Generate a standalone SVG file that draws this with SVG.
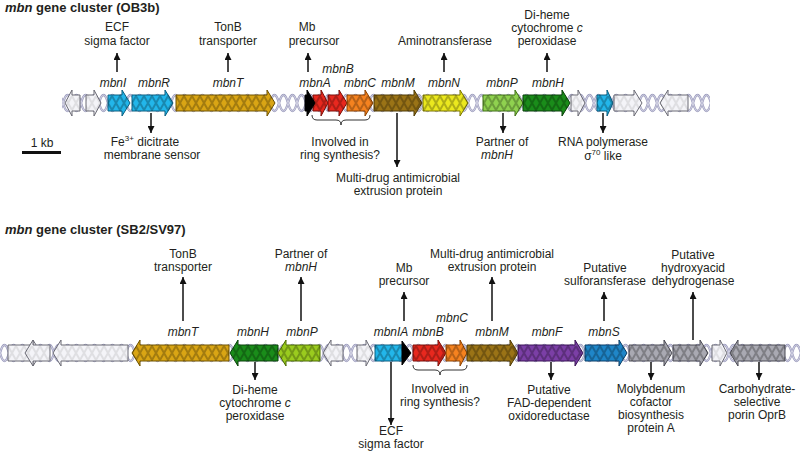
<svg xmlns="http://www.w3.org/2000/svg" xmlns:xlink="http://www.w3.org/1999/xlink" width="800" height="452" viewBox="0 0 800 452">
<defs>
<style>
text{font-family:"Liberation Sans",Arial,sans-serif;font-size:12px;fill:#231f20;text-anchor:middle}
.ttl{font-size:13px;font-weight:bold;text-anchor:start}
.i{font-style:italic}
.ar{stroke:#111;stroke-width:1.5;fill:none;marker-end:url(#ah)}
.br{stroke:#333;stroke-width:1;fill:none}
</style>
<marker id="ah" markerUnits="userSpaceOnUse" markerWidth="7" markerHeight="7" refX="7" refY="3.5" orient="auto"><path d="M0,0 L7,3.5 L0,7 z" fill="#111"/></marker>
<pattern id="dT" patternUnits="userSpaceOnUse" x="0" y="93" width="18" height="20"><path d="M0 10 Q4.5 -6 9 10 T18 10 M0 10 Q4.5 26 9 10 T18 10" fill="none" stroke="#9c9cbd" stroke-width="2.4"/><path d="M0 10 Q4.5 -6 9 10 T18 10 M0 10 Q4.5 26 9 10 T18 10" fill="none" stroke="#dedeec" stroke-width="0.8"/></pattern>
<pattern id="dB" patternUnits="userSpaceOnUse" x="0" y="343" width="18" height="20"><path d="M0 10 Q4.5 -6 9 10 T18 10 M0 10 Q4.5 26 9 10 T18 10" fill="none" stroke="#9c9cbd" stroke-width="2.4"/><path d="M0 10 Q4.5 -6 9 10 T18 10 M0 10 Q4.5 26 9 10 T18 10" fill="none" stroke="#dedeec" stroke-width="0.8"/></pattern>
<pattern id="hT" patternUnits="userSpaceOnUse" x="0" y="93" width="16" height="20"><path d="M0 3 L8 17 L16 3 M0 17 L8 3 L16 17" fill="none" stroke="#000" stroke-opacity="0.25" stroke-width="2"/></pattern>
<pattern id="hB" patternUnits="userSpaceOnUse" x="0" y="343" width="16" height="20"><path d="M0 3 L8 17 L16 3 M0 17 L8 3 L16 17" fill="none" stroke="#000" stroke-opacity="0.25" stroke-width="2"/></pattern>
</defs>
<rect width="800" height="452" fill="#fff"/>

<text class="ttl" x="5" y="12"><tspan class="i">mbn</tspan> gene cluster (OB3b)</text>
<text class="ttl" x="5" y="234"><tspan class="i">mbn</tspan> gene cluster (SB2/SV97)</text>

<!-- DNA backbones -->
<rect x="62" y="93" width="648" height="20" fill="url(#dT)"/>
<rect x="0" y="343" width="800" height="20" fill="url(#dB)"/>

<!-- Top cluster genes -->
<g id="t_orf1" fill="#f4f4f8" stroke="#6a6a74"><path id="tp1" d="M65 103 L72 90 V95 H80 V111 H72 V116 Z"/><use xlink:href="#tp1" fill="url(#hT)" stroke="none" opacity="0.35"/></g>
<g id="t_orf2" fill="#f4f4f8" stroke="#6a6a74"><path id="tp2" d="M86 95 H94 V90 L101 103 L94 116 V111 H86 Z"/><use xlink:href="#tp2" fill="url(#hT)" stroke="none" opacity="0.35"/></g>
<g id="t_mbnI" fill="#22b6ea" stroke="#0b5f80"><path id="tp3" d="M108 95 H122 V90 L130 103 L122 116 V111 H108 Z"/><use xlink:href="#tp3" fill="url(#hT)" stroke="none"/><text class="i" x="113" y="87" stroke="none">mbnI</text></g>
<g id="t_mbnR" fill="#22b6ea" stroke="#0b5f80"><path id="tp4" d="M132 95 H165 V90 L173 103 L165 116 V111 H132 Z"/><use xlink:href="#tp4" fill="url(#hT)" stroke="none"/><text class="i" x="154" y="87" stroke="none">mbnR</text></g>
<g id="t_mbnT" fill="#d9a514" stroke="#6e5200"><path id="tp5" d="M176 95 H267 V90 L275 103 L267 116 V111 H176 Z"/><use xlink:href="#tp5" fill="url(#hT)" stroke="none"/><text class="i" x="228" y="87" stroke="none">mbnT</text></g>
<g id="t_mbnA" fill="#e8281e" stroke="#7a0f08"><path id="tp7" d="M313 95 H321 V90 L328 103 L321 116 V111 H313 Z"/><use xlink:href="#tp7" fill="url(#hT)" stroke="none"/><path d="M305 95 H307 V90 L315 103 L307 116 V111 H305 Z" fill="#000" stroke="#000"/><text class="i" x="315" y="87" stroke="none">mbnA</text></g>
<g id="t_mbnB" fill="#e8281e" stroke="#7a0f08"><path id="tp8" d="M328 95 H339 V90 L347 103 L339 116 V111 H328 Z"/><use xlink:href="#tp8" fill="url(#hT)" stroke="none"/><text class="i" x="338" y="73" stroke="none">mbnB</text></g>
<g id="t_mbnC" fill="#f5821f" stroke="#8a4100"><path id="tp9" d="M347 95 H365 V90 L373 103 L365 116 V111 H347 Z"/><use xlink:href="#tp9" fill="url(#hT)" stroke="none"/><text class="i" x="360" y="87" stroke="none">mbnC</text></g>
<g id="t_mbnM" fill="#9a7316" stroke="#4e3a05"><path id="tp10" d="M374 95 H414 V90 L422 103 L414 116 V111 H374 Z"/><use xlink:href="#tp10" fill="url(#hT)" stroke="none"/><text class="i" x="398" y="87" stroke="none">mbnM</text></g>
<g id="t_mbnN" fill="#ebe81e" stroke="#7a7500"><path id="tp11" d="M423 95 H460 V90 L468 103 L460 116 V111 H423 Z"/><use xlink:href="#tp11" fill="url(#hT)" stroke="none"/><text class="i" x="444" y="87" stroke="none">mbnN</text></g>
<g id="t_mbnP" fill="#8fd14f" stroke="#3f6e14"><path id="tp12" d="M483 95 H515 V90 L523 103 L515 116 V111 H483 Z"/><use xlink:href="#tp12" fill="url(#hT)" stroke="none"/><text class="i" x="502" y="87" stroke="none">mbnP</text></g>
<g id="t_mbnH" fill="#1a8c1a" stroke="#0a400a"><path id="tp13" d="M523 95 H562 V90 L570 103 L562 116 V111 H523 Z"/><use xlink:href="#tp13" fill="url(#hT)" stroke="none"/><text class="i" x="548" y="87" stroke="none">mbnH</text></g>
<g id="t_orf3" fill="#f4f4f8" stroke="#6a6a74"><path id="tp14" d="M571 95 H578 V90 L585 103 L578 116 V111 H571 Z"/><use xlink:href="#tp14" fill="url(#hT)" stroke="none" opacity="0.35"/></g>
<g id="t_sigma" fill="#22b6ea" stroke="#0b5f80"><path id="tp15" d="M597 95 H607 V90 L613 103 L607 116 V111 H597 Z"/><use xlink:href="#tp15" fill="url(#hT)" stroke="none"/></g>
<g id="t_orf4" fill="#f4f4f8" stroke="#6a6a74"><path id="tp16" d="M614 95 H634 V90 L642 103 L634 116 V111 H614 Z"/><use xlink:href="#tp16" fill="url(#hT)" stroke="none" opacity="0.35"/></g>
<g id="t_orf5" fill="#f4f4f8" stroke="#6a6a74"><path id="tp17" d="M660 103 L668 90 V95 H688 V111 H668 V116 Z"/><use xlink:href="#tp17" fill="url(#hT)" stroke="none" opacity="0.35"/></g>

<!-- Top annotations -->
<g id="t_ann">
<text x="117" y="31">ECF</text><text x="117" y="45">sigma factor</text>
<text x="228" y="31">TonB</text><text x="228" y="45">transporter</text>
<text x="307" y="31">Mb</text><text x="314" y="45">precursor</text>
<text x="445" y="45">Aminotransferase</text>
<text x="547" y="19">Di-heme</text><text x="547" y="32">cytochrome <tspan class="i">c</tspan></text><text x="547" y="45">peroxidase</text>
<text x="145" y="146">Fe<tspan font-size="8" dy="-5">3+</tspan><tspan dy="5"> dicitrate</tspan></text><text x="152" y="159">membrane sensor</text>
<text x="42" y="147">1 kb</text>
<text x="340" y="146">Involved in</text><text x="340" y="159">ring synthesis?</text>
<text x="398" y="182">Multi-drug antimicrobial</text><text x="398" y="195">extrusion protein</text>
<text x="502" y="146">Partner of</text><text class="i" x="497" y="159">mbnH</text>
<text x="603" y="146">RNA polymerase</text><text x="603" y="160">σ<tspan font-size="8" dy="-5">70</tspan><tspan dy="5"> like</tspan></text>
</g>
<rect x="22" y="151" width="39" height="3" fill="#111"/>

<!-- Bottom cluster genes -->
<g id="b_orf1" fill="#f4f4f8" stroke="#6a6a74"><path id="bp1" d="M8 345 H33 V340 L41 353 L33 366 V361 H8 Z"/><use xlink:href="#bp1" fill="url(#hB)" stroke="none" opacity="0.35"/></g>
<g id="b_orf2" fill="#f4f4f8" stroke="#6a6a74"><path id="bp2" d="M25 353 L33 340 V345 H50 V361 H33 V366 Z"/><use xlink:href="#bp2" fill="url(#hB)" stroke="none" opacity="0.35"/></g>
<g id="b_orf3" fill="#f4f4f8" stroke="#6a6a74"><path id="bp3" d="M53 353 L61 340 V345 H128 V361 H61 V366 Z"/><use xlink:href="#bp3" fill="url(#hB)" stroke="none" opacity="0.35"/></g>
<g id="b_mbnT" fill="#d9a514" stroke="#6e5200"><path id="bp4" d="M132 353 L140 340 V345 H229 V361 H140 V366 Z"/><use xlink:href="#bp4" fill="url(#hB)" stroke="none"/><text class="i" x="183" y="336" stroke="none">mbnT</text></g>
<g id="b_mbnH" fill="#1a8c1a" stroke="#0a400a"><path id="bp5" d="M230 353 L238 340 V345 H278 V361 H238 V366 Z"/><use xlink:href="#bp5" fill="url(#hB)" stroke="none"/><text class="i" x="253" y="336" stroke="none">mbnH</text></g>
<g id="b_mbnP" fill="#9acb1e" stroke="#4a6a00"><path id="bp6" d="M278 353 L286 340 V345 H320 V361 H286 V366 Z"/><use xlink:href="#bp6" fill="url(#hB)" stroke="none"/><text class="i" x="302" y="336" stroke="none">mbnP</text></g>
<g id="b_orf4" fill="#f4f4f8" stroke="#6a6a74"><path id="bp7" d="M323 353 L331 340 V345 H343 V361 H331 V366 Z"/><use xlink:href="#bp7" fill="url(#hB)" stroke="none" opacity="0.35"/></g>
<g id="b_orf5" fill="#f4f4f8" stroke="#6a6a74"><path id="bp8" d="M357 345 H366 V340 L373 353 L366 366 V361 H357 Z"/><use xlink:href="#bp8" fill="url(#hB)" stroke="none" opacity="0.35"/></g>
<g id="b_mbnIA" fill="#22b6ea" stroke="#0b5f80"><path id="bp9" d="M375 345 H403 V361 H375 Z"/><use xlink:href="#bp9" fill="url(#hB)" stroke="none"/><path d="M402 341 L411 353 L402 365 Z" fill="#000" stroke="#000"/><text class="i" x="391" y="336" stroke="none">mbnIA</text></g>
<g id="b_mbnB" fill="#e8281e" stroke="#7a0f08"><path id="bp10" d="M413 345 H438 V340 L446 353 L438 366 V361 H413 Z"/><use xlink:href="#bp10" fill="url(#hB)" stroke="none"/><text class="i" x="428" y="336" stroke="none">mbnB</text></g>
<g id="b_mbnC" fill="#f5821f" stroke="#8a4100"><path id="bp11" d="M446 345 H460 V340 L467 353 L460 366 V361 H446 Z"/><use xlink:href="#bp11" fill="url(#hB)" stroke="none"/><text class="i" x="452" y="322" stroke="none">mbnC</text></g>
<g id="b_mbnM" fill="#9a7316" stroke="#4e3a05"><path id="bp12" d="M467 345 H510 V340 L518 353 L510 366 V361 H467 Z"/><use xlink:href="#bp12" fill="url(#hB)" stroke="none"/><text class="i" x="492" y="336" stroke="none">mbnM</text></g>
<g id="b_mbnF" fill="#7b3fa6" stroke="#3a1456"><path id="bp13" d="M518 345 H575 V340 L583 353 L575 366 V361 H518 Z"/><use xlink:href="#bp13" fill="url(#hB)" stroke="none"/><text class="i" x="547" y="336" stroke="none">mbnF</text></g>
<g id="b_mbnS" fill="#1f86c8" stroke="#0a3d66"><path id="bp14" d="M585 345 H619 V340 L627 353 L619 366 V361 H585 Z"/><use xlink:href="#bp14" fill="url(#hB)" stroke="none"/><text class="i" x="604" y="336" stroke="none">mbnS</text></g>
<g id="b_moaA" fill="#a9a9b2" stroke="#4a4a54"><path id="bp15" d="M629 345 H664 V340 L672 353 L664 366 V361 H629 Z"/><use xlink:href="#bp15" fill="url(#hB)" stroke="none"/></g>
<g id="b_hdh" fill="#a9a9b2" stroke="#4a4a54"><path id="bp16" d="M673 345 H700 V340 L708 353 L700 366 V361 H673 Z"/><use xlink:href="#bp16" fill="url(#hB)" stroke="none"/></g>
<g id="b_orf6" fill="#f4f4f8" stroke="#6a6a74"><path id="bp17" d="M712 345 H720 V340 L727 353 L720 366 V361 H712 Z"/><use xlink:href="#bp17" fill="url(#hB)" stroke="none" opacity="0.35"/></g>
<g id="b_oprB" fill="#a9a9b2" stroke="#4a4a54"><path id="bp18" d="M730 353 L738 340 V345 H785 V361 H738 V366 Z"/><use xlink:href="#bp18" fill="url(#hB)" stroke="none"/></g>

<!-- Bottom annotations -->
<g id="b_ann">
<text x="183" y="258">TonB</text><text x="183" y="271">transporter</text>
<text x="301" y="258">Partner of</text><text class="i" x="301" y="271">mbnH</text>
<text x="404" y="272">Mb</text><text x="404" y="285">precursor</text>
<text x="492" y="258">Multi-drug antimicrobial</text><text x="492" y="271">extrusion protein</text>
<text x="605" y="272">Putative</text><text x="605" y="285">sulforansferase</text>
<text x="693" y="259">Putative</text><text x="693" y="272">hydroxyacid</text><text x="693" y="285">dehydrogenase</text>
<text x="255" y="394">Di-heme</text><text x="255" y="407">cytochrome <tspan class="i">c</tspan></text><text x="255" y="420">peroxidase</text>
<text x="391" y="435">ECF</text><text x="391" y="448">sigma factor</text>
<text x="440" y="393">Involved in</text><text x="440" y="406">ring synthesis?</text>
<text x="549" y="394">Putative</text><text x="549" y="407">FAD-dependent</text><text x="549" y="420">oxidoreductase</text>
<text x="651" y="393">Molybdenum</text><text x="651" y="406">cofactor</text><text x="651" y="419">biosynthesis</text><text x="651" y="432">protein A</text>
<text x="757" y="393">Carbohydrate-</text><text x="757" y="406">selective</text><text x="757" y="419">porin OprB</text>
</g>

<!-- Connectors -->
<g id="connectors">
<path class="ar" d="M117 72 V53"/>
<path class="ar" d="M228 72 V53"/>
<path class="ar" d="M308 72 V53"/>
<path class="ar" d="M444 72 V53"/>
<path class="ar" d="M547 72 V53"/>
<path class="ar" d="M151 113 V133"/>
<path class="ar" d="M397 113 V167"/>
<path class="ar" d="M503 113 V133"/>
<path class="ar" d="M603 113 V133"/>
<path class="br" d="M312 115 q0 5 5 5 H336 q5 0 5 5 q0 -5 5 -5 H365 q5 0 5 -5"/>
<path class="ar" d="M183 321 V277"/>
<path class="ar" d="M301 321 V277"/>
<path class="ar" d="M404 321 V292"/>
<path class="ar" d="M492 321 V277"/>
<path class="ar" d="M604 321 V292"/>
<path class="ar" d="M693 340 V292"/>
<path class="ar" d="M255 362 V380"/>
<path class="ar" d="M391 362 V425"/>
<path class="ar" d="M551 362 V380"/>
<path class="ar" d="M651 362 V380"/>
<path class="ar" d="M759 362 V380"/>
<path class="br" d="M413 365 q0 5 5 5 H435 q5 0 5 5 q0 -5 5 -5 H462 q5 0 5 -5"/>
</g>
</svg>
